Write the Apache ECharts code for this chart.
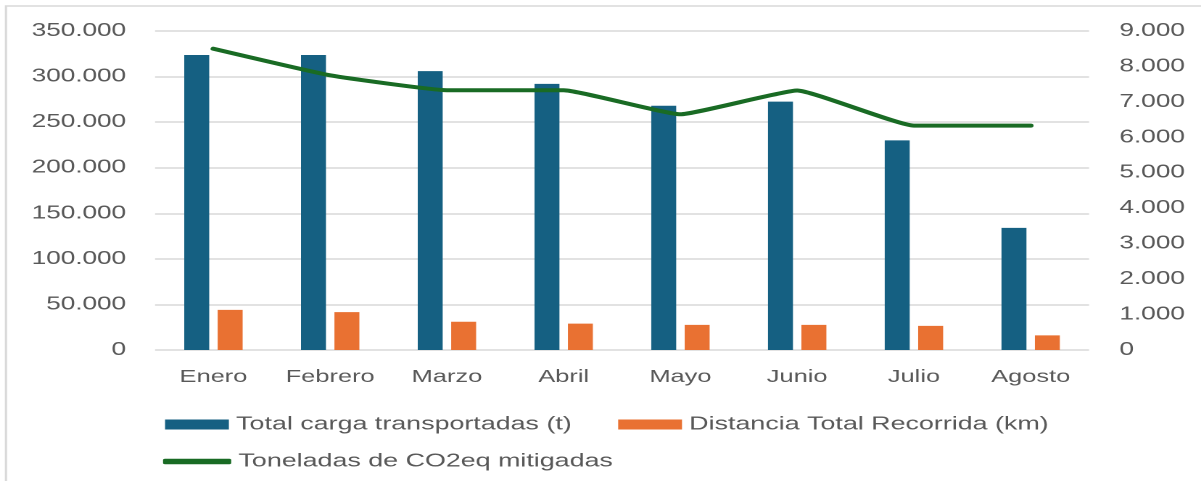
<!DOCTYPE html>
<html>
<head>
<meta charset="utf-8">
<script src="https://cdn.jsdelivr.net/npm/echarts@6/dist/echarts.min.js"></script>
<style>
html,body{margin:0;padding:0;background:#fff;overflow:hidden;}
#wrap{width:828px;height:481px;transform:scaleX(1.4505);transform-origin:0 0;}
</style>
</head>
<body>
<div id="wrap"></div>
<script>
const months = ['Enero','Febrero','Marzo','Abril','Mayo','Junio','Julio','Agosto'];
const carga = [323700, 323700, 306000, 292000, 268000, 272500, 230000, 134000];
const distancia = [44000, 41500, 31000, 29000, 27500, 27500, 26500, 16000];
const co2 = [8500, 7750, 7330, 7330, 6650, 7320, 6330, 6330];
const leftTicks = {min: 0, max: 350000, interval: 50000};
const rightTicks = {min: 0, max: 9000, interval: 1000};
const names = ['Total carga transportadas (t)', 'Distancia Total Recorrida (km)', 'Toneladas de CO2eq mitigadas'];

const fmt = v => String(v).replace(/\B(?=(\d{3})+(?!\d))/g, '.');
const grey = '#595959';
const font = 'Liberation Sans';

const chart = echarts.init(document.getElementById('wrap'), null, {renderer: 'canvas', devicePixelRatio: 2});
chart.setOption({
  animation: false,
  backgroundColor: '#fff',
  graphic: [{
    type: 'rect', silent: true,
    shape: {x: 4.1, y: 6, width: 900, height: 600},
    style: {fill: 'none', stroke: '#d9d9d9', lineWidth: 1.5}
  }],
  grid: {left: 106.9, right: 77.2, top: 31, bottom: 131},
  xAxis: {
    type: 'category', data: months,
    axisLine: {show: false}, axisTick: {show: false},
    axisLabel: {color: grey, fontFamily: font, fontSize: 17.5, margin: 18}
  },
  yAxis: [{
    type: 'value', min: leftTicks.min, max: leftTicks.max, interval: leftTicks.interval,
    axisLine: {show: false}, axisTick: {show: false},
    axisLabel: {color: grey, fontFamily: font, fontSize: 18, margin: 20, formatter: fmt},
    splitLine: {lineStyle: {color: '#d9d9d9', width: 1.5}}
  }, {
    type: 'value', min: rightTicks.min, max: rightTicks.max, interval: rightTicks.interval,
    axisLine: {show: false}, axisTick: {show: false},
    axisLabel: {color: grey, fontFamily: font, fontSize: 18, margin: 21, formatter: fmt},
    splitLine: {show: false}
  }],
  legend: [{
    data: [names[0], names[1]],
    left: 113.8, top: 415, orient: 'horizontal', padding: 0,
    itemWidth: 44, itemHeight: 10, itemGap: 32, icon: 'rect',
    textStyle: {color: grey, fontFamily: font, fontSize: 18.5}
  }, {
    data: [{name: names[2], icon: 'roundRect'}],
    left: 112.4, top: 452, padding: 0,
    itemWidth: 47, itemHeight: 5.5,
    textStyle: {color: grey, fontFamily: font, fontSize: 18.5}
  }],
  series: [{
    name: names[0], type: 'bar', data: carga, yAxisIndex: 0,
    barWidth: 17.2, barGap: '34%',
    itemStyle: {color: '#156082'}
  }, {
    name: names[1], type: 'bar', data: distancia, yAxisIndex: 0,
    barWidth: 17.2, barGap: '34%',
    itemStyle: {color: '#E97132'}
  }, {
    name: names[2], type: 'line', data: co2, yAxisIndex: 1,
    symbol: 'none', smooth: 0.12,
    lineStyle: {color: '#196B24', width: 4, cap: 'round'},
    itemStyle: {color: '#196B24'}
  }]
});
</script>
</body>
</html>
